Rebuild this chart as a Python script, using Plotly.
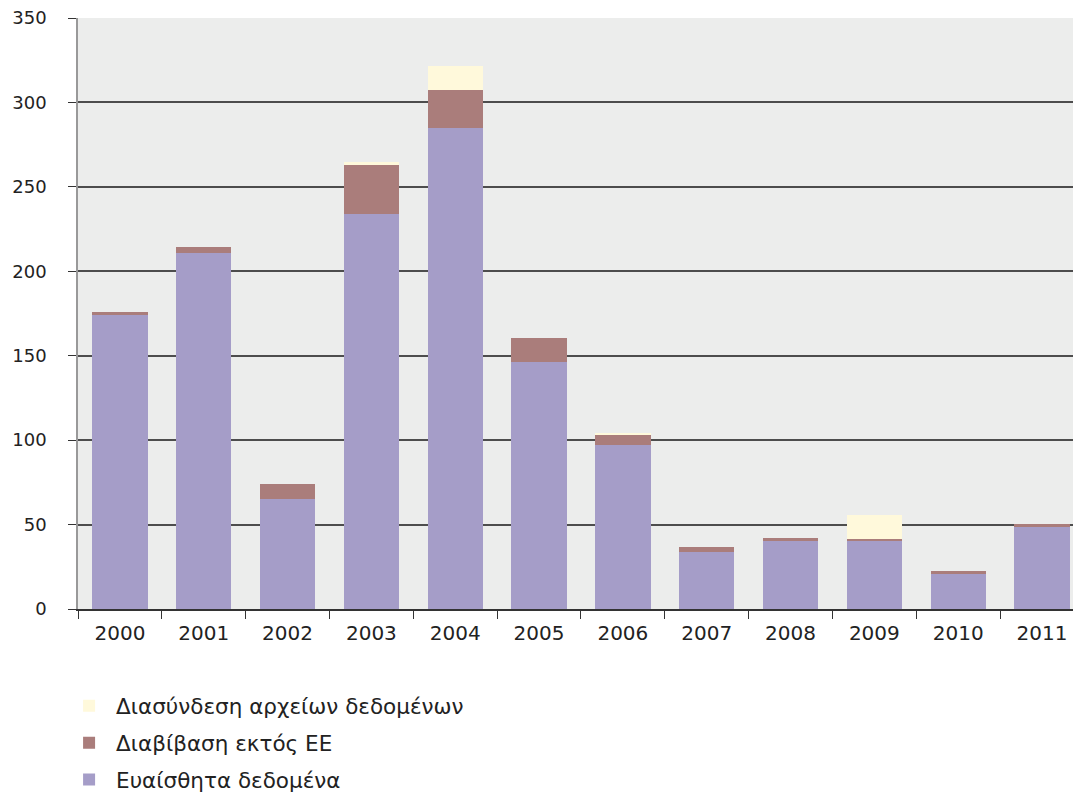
import plotly.graph_objects as go

years = ["2000", "2001", "2002", "2003", "2004", "2005", "2006", "2007", "2008", "2009", "2010", "2011"]
sensitive = [174, 211, 65, 234, 285, 146, 97, 34, 40, 40, 21, 48.5]
transfer = [2, 3.5, 9, 29, 22.5, 14.5, 6, 3, 2, 1.5, 1.5, 2]
interconnect = [0, 0, 0, 1.5, 14, 0, 1.5, 0, 0, 14, 0, 0]
y_ticks = [0, 50, 100, 150, 200, 250, 300, 350]

names = ["Ευαίσθητα δεδομένα", "Διαβίβαση εκτός ΕΕ", "Διασύνδεση αρχείων δεδομένων"]
colors = ["#A59DC8", "#AA7D7B", "#FFF9DB"]
series = [sensitive, transfer, interconnect]

tick_font = "DejaVu Sans, sans-serif"

fig = go.Figure()
for i, (nm, col, vals) in enumerate(zip(names, colors, series)):
    fig.add_trace(go.Bar(
        x=years, y=vals, name=nm,
        marker=dict(color=col, line=dict(width=0)),
        legendgroup="g%d" % i, legendrank=10 - i,
    ))

fig.update_layout(
    barmode="stack",
    bargap=0.34,
    width=1073, height=796,
    margin=dict(l=78, r=0, t=18, b=187, autoexpand=False),
    paper_bgcolor="white",
    plot_bgcolor="#ECEDEC",
    font=dict(family=tick_font, color="#222222", size=18),
    showlegend=True,
    legend=dict(
        orientation="v", traceorder="grouped",
        x=-0.016, xanchor="left", y=-0.129, yanchor="top",
        font=dict(size=21.5, family=tick_font, color="#222222"),
        tracegroupgap=6, itemwidth=44,
        bgcolor="rgba(0,0,0,0)",
    ),
    xaxis=dict(
        type="category", range=[-0.5, 11.37],
        showgrid=False, ticks="outside", tickson="boundaries",
        ticklen=8, tickcolor="#333333", showline=True, linecolor="#333333",
        linewidth=1.5, tickfont=dict(size=20, color="#222222"),
        ticklabelstandoff=5,
    ),
    yaxis=dict(
        range=[0, 350], tickvals=y_ticks, showgrid=True, gridcolor="#4d4d4d",
        gridwidth=1.5, ticks="outside", ticklen=8, tickcolor="#333333",
        showline=True, linecolor="#999999", linewidth=1.5, zeroline=False,
        tickfont=dict(size=18, color="#222222"), ticklabelstandoff=18,
    ),
)

fig.write_html("out.html", config={"displayModeBar": False},
               post_script="document.body.style.margin='0';")
